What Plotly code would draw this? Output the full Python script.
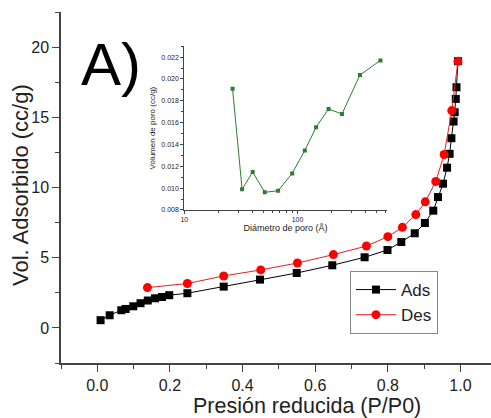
import plotly.graph_objects as go

# Main isotherm data
ads_p = [0.009, 0.034, 0.066, 0.078, 0.099, 0.119, 0.139, 0.159, 0.178, 0.198,
         0.248, 0.348, 0.448, 0.549, 0.647, 0.736, 0.799, 0.837, 0.874, 0.902,
         0.925, 0.938, 0.952, 0.963, 0.970, 0.975, 0.981, 0.984, 0.987, 0.989, 0.993]
ads_v = [0.55, 0.90, 1.26, 1.35, 1.54, 1.76, 1.95, 2.11, 2.20, 2.33,
         2.47, 2.94, 3.44, 3.91, 4.46, 5.03, 5.55, 6.12, 6.74, 7.47,
         8.35, 9.32, 10.27, 11.41, 12.40, 13.51, 14.70, 15.36, 16.31, 17.14, 19.00]
des_p = [0.138, 0.248, 0.348, 0.450, 0.551, 0.650, 0.741, 0.800, 0.840, 0.877,
         0.903, 0.932, 0.955, 0.976, 0.993]
des_v = [2.87, 3.16, 3.70, 4.13, 4.62, 5.22, 5.83, 6.50, 7.16, 8.07,
         8.98, 10.43, 12.35, 15.48, 19.00]

# Inset pore size distribution
pore_d = [26.7, 32.4, 40.2, 51.4, 67.4, 89.7, 116, 146, 188, 247, 356, 540]
pore_v = [0.0191, 0.0099, 0.01147, 0.00962, 0.00976, 0.01135, 0.01345,
          0.01558, 0.01725, 0.01679, 0.02036, 0.0217]

FONT = "Liberation Sans, Arial, sans-serif"
AX = "#444444"
TXT = "#222222"
GREEN = "#2e7d2e"

fig = go.Figure()
fig.add_trace(go.Scatter(x=ads_p, y=ads_v, mode="lines+markers", name="Ads",
                         line=dict(color="black", width=1),
                         marker=dict(symbol="square", size=8, color="black")))
fig.add_trace(go.Scatter(x=des_p, y=des_v, mode="lines+markers", name="Des",
                         line=dict(color="#e02020", width=1),
                         marker=dict(symbol="circle", size=9, color="#ff0000")))
fig.add_trace(go.Scatter(x=pore_d, y=pore_v, mode="lines+markers", showlegend=False,
                         xaxis="x2", yaxis="y2",
                         line=dict(color=GREEN, width=1),
                         marker=dict(symbol="square", size=4, color=GREEN)))

fig.update_layout(
    width=491, height=418,
    margin=dict(l=61, r=0, t=12, b=55),
    paper_bgcolor="white", plot_bgcolor="white",
    font=dict(family=FONT, color=TXT),
    xaxis=dict(domain=[0, 1], range=[-0.1, 1.084], tick0=0, dtick=0.2,
               tickformat=".1f", ticks="outside", ticklen=7, tickwidth=1.3,
               tickcolor=AX, showline=True, linecolor=AX, linewidth=1.5,
               showgrid=False, zeroline=False, tickfont=dict(size=16),
               minor=dict(ticks="outside", dtick=0.1, tick0=0, ticklen=4,
                          tickcolor=AX, showgrid=False)),
    yaxis=dict(domain=[0, 1], range=[-2.5, 22.5], tick0=0, dtick=5,
               ticks="outside", ticklen=7, tickwidth=1.3, tickcolor=AX,
               showline=True, linecolor=AX, linewidth=1.5, showgrid=False,
               zeroline=False, tickfont=dict(size=16),
               minor=dict(ticks="outside", dtick=2.5, tick0=0, ticklen=4,
                          tickcolor=AX, showgrid=False)),
    xaxis2=dict(domain=[0.2867, 0.758], anchor="y2", type="log",
                range=[1, 2.79], tickvals=[10, 100], ticktext=["10", "100"],
                ticks="outside", ticklen=3, tickcolor=AX, showline=True,
                linecolor=AX, linewidth=1, showgrid=False, zeroline=False,
                tickfont=dict(size=7),
                minor=dict(ticks="outside", ticklen=2, tickcolor=AX,
                           tickvals=[20, 30, 40, 50, 60, 70, 80, 90,
                                     200, 300, 400, 500, 600], showgrid=False),
                title=dict(text="Diámetro de poro (Å)", font=dict(size=9),
                           standoff=0)),
    yaxis2=dict(domain=[0.436, 0.9025], anchor="x2", range=[0.008, 0.023],
                tickvals=[0.008, 0.010, 0.012, 0.014, 0.016, 0.018, 0.020, 0.022],
                tickformat=".3f", ticks="outside", ticklen=3, tickcolor=AX,
                showline=True, linecolor=AX, linewidth=1, showgrid=False,
                zeroline=False, tickfont=dict(size=7),
                minor=dict(ticks="outside", ticklen=2, tickcolor=AX,
                           tickvals=[0.009, 0.011, 0.013, 0.015, 0.017,
                                     0.019, 0.021, 0.023], showgrid=False),
                title=dict(text="Volumen de poro (cc/g)", font=dict(size=8),
                           standoff=4)),
    legend=dict(x=0.672, y=0.262, xanchor="left", yanchor="top",
                bordercolor="#888888", borderwidth=1, bgcolor="white",
                font=dict(size=17), itemwidth=40, tracegroupgap=0),
    showlegend=True,
)

# Main axis titles placed to match the reference
fig.add_annotation(text="Presión reducida (P/P0)", x=(307 - 61) / 430,
                   y=(363.3 - 406) / 351.6,
                   xref="paper", yref="paper", showarrow=False,
                   font=dict(size=21.5, family=FONT, color=TXT),
                   xanchor="center", yanchor="middle")
fig.add_annotation(text="Vol. Adsorbido (cc/g)", x=(20 - 61) / 430,
                   y=(363.3 - 185) / 351.6,
                   xref="paper", yref="paper", showarrow=False, textangle=-90,
                   font=dict(size=22, family=FONT, color=TXT),
                   xanchor="center", yanchor="middle")

fig.add_annotation(text="A)", x=0.116, y=0.851, xref="paper", yref="paper",
                   showarrow=False, font=dict(size=60, family=FONT, color="black"),
                   xanchor="center", yanchor="middle")

fig.write_html("out.html")
